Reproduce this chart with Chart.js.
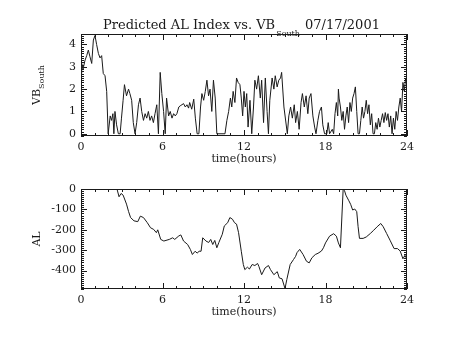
<!DOCTYPE html>
<html>
<head>
<meta charset="utf-8">
<script src="https://cdn.jsdelivr.net/npm/chart.js@4.4.0/dist/chart.umd.min.js"></script>
<style>
  html, body { margin: 0; padding: 0; background: #fff; }
  #wrap { position: relative; width: 454px; height: 341px; }
  #wrap canvas { position: absolute; left: 0; }
  #vbChart { top: 0; }
  #alChart { top: 170px; }
</style>
</head>
<body>
<div id="wrap">
  <canvas id="vbChart" width="454" height="170"></canvas>
  <canvas id="alChart" width="454" height="171"></canvas>
</div>
<script>
// VB south (top panel), hours vs value
const vbHours = [
  0.0, 0.05, 0.15, 0.3, 0.42, 0.54, 0.66, 0.79, 0.91, 1.03, 1.15, 1.28, 1.4, 1.52, 1.64, 1.77, 1.89, 2.0,
  2.15, 2.25, 2.35, 2.42, 2.5, 2.62, 2.75, 2.88, 2.98, 3.1, 3.2, 3.35, 3.5, 3.6, 3.73, 3.85, 3.98,
  4.1, 4.23, 4.35, 4.47, 4.6, 4.72, 4.84, 4.96, 5.08, 5.2, 5.33, 5.45, 5.58, 5.7, 5.83, 5.95, 6.08, 6.2,
  6.3, 6.45, 6.57, 6.7, 6.82, 6.94, 7.06, 7.2, 7.3, 7.55, 7.68, 7.8, 7.92, 8.0, 8.15, 8.3, 8.42, 8.55, 8.68,
  8.8, 8.9, 9.03, 9.15, 9.27, 9.39, 9.5, 9.63, 9.75, 9.88, 10.0, 10.6, 10.74, 10.87, 11.0, 11.1, 11.2,
  11.33, 11.45, 11.57, 11.7, 11.8, 11.9, 12.0, 12.1, 12.2, 12.3, 12.44, 12.57, 12.7, 12.8, 12.93, 13.06,
  13.2, 13.3, 13.44, 13.57, 13.7, 13.8, 13.9, 14.07, 14.2, 14.3, 14.44, 14.56, 14.69, 14.77, 14.94, 15.19,
  15.3, 15.43, 15.56, 15.7, 15.8, 15.93, 16.06, 16.2, 16.3, 16.44, 16.57, 16.7, 16.8, 16.93, 17.07, 17.2,
  17.3, 17.44, 17.56, 17.7, 17.8, 17.93, 18.1, 18.2, 18.3, 18.5, 18.6, 18.7, 18.8, 18.9, 18.95, 19.0, 19.1,
  19.2, 19.3, 19.4, 19.5, 19.6, 19.7, 19.8, 19.9, 20.0, 20.1, 20.2, 20.3, 20.4, 20.5, 20.6, 20.7, 20.8,
  20.9, 21.0, 21.1, 21.2, 21.3, 21.4, 21.5, 21.6, 21.7, 21.8, 21.9, 22.0, 22.1, 22.2, 22.3, 22.4, 22.5,
  22.6, 22.7, 22.8, 22.9, 23.0, 23.1, 23.2, 23.3, 23.4, 23.5, 23.6, 23.7, 23.8, 23.9, 24.0
];
const vbValues = [
  2.7, 3.15, 2.9, 3.3, 3.5, 3.75, 3.45, 3.15, 4.2, 4.4, 4.0, 3.6, 3.4, 3.5, 2.7, 2.6, 1.9, 0,
  0.8, 0.6, 0.9, 0, 1.0, 0.4, 0, 0, 0.7, 1.5, 2.2, 1.7, 2.0, 1.8, 1.5, 0.5, 0,
  0.5, 1.3, 1.6, 1.0, 0.6, 0.9, 0.7, 1.0, 0.6, 0.8, 0.5, 0.9, 1.3, 0, 2.75, 1.8, 1.0, 0,
  1.6, 0.8, 1.0, 0.7, 0.9, 0.8, 0.9, 1.2, 1.25, 1.35, 1.2, 1.3, 1.15, 1.4, 1.1, 1.55, 0.7, 0, 0,
  1.2, 1.8, 1.5, 1.9, 2.4, 1.7, 2.0, 1.0, 2.4, 1.6, 0, 0, 0.6, 1.0, 1.6, 1.2, 1.9,
  1.4, 2.5, 2.3, 2.2, 1.6, 0.8, 1.9, 1.2, 1.8, 0.3, 1.5, 0, 1.2, 2.4, 2.0, 2.6,
  1.6, 2.4, 0.5, 2.5, 1.0, 0, 1.5, 2.5, 2.0, 2.6, 2.1, 2.4, 2.5, 2.75, 1.2, 0,
  0.8, 1.2, 0.7, 1.3, 0.5, 1.0, 0.2, 1.4, 1.8, 1.2, 1.7, 0.9, 1.6, 1.8, 0.8, 0.3,
  0, 0.6, 1.0, 1.2, 0.4, 0, 0, 0.5, 0, 0.2, 0, 0.9, 1.4, 0.8, 2.0, 1.6, 1.2,
  0.6, 1.0, 0.2, 0.8, 1.2, 0.5, 1.4, 1.0, 1.6, 1.8, 2.1, 1.0, 0, 0, 0.6, 1.2, 0.7,
  1.0, 1.5, 0.9, 1.3, 0.4, 0.9, 0, 0, 0.5, 0.2, 0.7, 0.3, 0.6, 0.9, 0.5, 0.95, 0.6,
  0.9, 0.3, 0.8, 0, 0.7, 0.2, 1.0, 0.6, 1.2, 1.6, 1.0, 2.3, 1.9, 2.5, 2.2
];

// AL index (bottom panel)
const alHours = [
  0, 2.65, 2.8, 2.95, 3.1, 3.35, 3.5, 3.65, 3.9, 4.18, 4.37, 4.6, 4.88, 5.12, 5.35, 5.55, 5.65, 5.87, 6.1, 6.5,
  6.75, 6.9, 7.2, 7.35, 7.55, 7.85, 8.05, 8.2, 8.4, 8.55, 8.7, 8.84, 8.96, 9.2, 9.4, 9.55, 9.7, 9.85, 10.0, 10.15,
  10.4, 10.55, 10.8, 10.96, 11.15, 11.3, 11.45, 11.6, 11.8, 11.95, 12.06, 12.25, 12.4, 12.6, 12.8, 13.0, 13.1,
  13.3, 13.55, 13.8, 13.95, 14.2, 14.45, 14.6, 14.8, 15.02, 15.15, 15.4, 15.65, 15.8, 15.9, 16.1, 16.35, 16.6,
  16.8, 17.0, 17.25, 17.45, 17.7, 17.85, 18.0, 18.3, 18.6, 18.8, 18.95, 19.1, 19.3, 19.4, 19.5, 19.7, 19.85,
  20.0, 20.15, 20.3, 20.4, 20.5, 20.77, 21.0, 21.3, 21.55, 21.8, 22.07, 22.25, 22.5, 22.75, 23.05, 23.3, 23.5,
  23.7, 23.85, 24.0
];
const alValues = [
  0, 0, -38, -22, -30, -74, -110, -140, -156, -160, -133, -140, -165, -190, -198, -214, -200, -247, -255, -247,
  -239, -247, -230, -225, -255, -272, -296, -321, -305, -314, -305, -305, -239, -255, -262, -247, -272, -252, -288, -262,
  -222, -181, -165, -140, -148, -165, -172, -214, -305, -370, -395, -383, -392, -370, -375, -365, -380,
  -420, -387, -375, -395, -420, -405, -436, -440, -488, -444, -370, -345, -330, -312, -296, -321, -354,
  -362, -337, -321, -315, -304, -288, -264, -231, -219, -231, -264, -288, 0, -8, -30, -55, -75,
  -103, -98, -111, -185, -242, -242, -235, -218, -202, -185, -169, -185, -218, -251, -292, -292, -304,
  -342, -325, -345
];

// axis ticks
const hourTicks = [0, 6, 12, 18, 24];
const vbTicks = [0, 1, 2, 3, 4];
const alTicks = [0, -100, -200, -300, -400];

const FONT = '"DejaVu Serif", "Liberation Serif", serif';
const INK = '#1a1a1a';

// IDL style frame: box around the plot with inward major/minor ticks on all four sides
const idlFrame = {
  id: 'idlFrame',
  afterDatasetsDraw(chart, args, opts) {
    const { ctx, chartArea: a, scales: { x, y } } = chart;
    ctx.save();
    ctx.strokeStyle = INK;
    ctx.lineWidth = 1;
    ctx.strokeRect(a.left + 0.5, a.top + 0.5, a.right - a.left - 1, a.bottom - a.top - 1);

    ctx.beginPath();
    const xTicks = (v, len) => {
      const px = Math.round(x.getPixelForValue(v)) + 0.5;
      ctx.moveTo(px, a.bottom); ctx.lineTo(px, a.bottom - len);
      ctx.moveTo(px, a.top); ctx.lineTo(px, a.top + len);
    };
    const yTicks = (v, len) => {
      const py = Math.round(y.getPixelForValue(v)) + 0.5;
      ctx.moveTo(a.left, py); ctx.lineTo(a.left + len, py);
      ctx.moveTo(a.right, py); ctx.lineTo(a.right - len, py);
    };
    for (let v = x.min; v <= x.max + 1e-9; v += opts.xMinor) xTicks(v, 3);
    opts.xMajor.forEach(v => xTicks(v, 6));
    const start = Math.ceil(y.min / opts.yMinor) * opts.yMinor;
    for (let v = start; v <= y.max + 1e-9; v += opts.yMinor) yTicks(v, 3);
    opts.yMajor.forEach(v => yTicks(v, 6));
    ctx.stroke();

    // axis titles (with subscripts where needed)
    ctx.fillStyle = INK;
    ctx.textBaseline = 'alphabetic';
    ctx.font = '11px ' + FONT;
    ctx.textAlign = 'center';
    ctx.fillText('time(hours)', (a.left + a.right) / 2, a.bottom + 26);

    ctx.save();
    ctx.translate(opts.yTitleX, (a.top + a.bottom) / 2);
    ctx.rotate(-Math.PI / 2);
    ctx.textAlign = 'left';
    const main = opts.yTitle;
    const sub = opts.yTitleSub || '';
    ctx.font = '8px ' + FONT;
    const subW = ctx.measureText(sub).width;
    ctx.font = '11px ' + FONT;
    const mainW = ctx.measureText(main).width;
    const x0 = -(mainW + subW) / 2;
    ctx.fillText(main, x0, 0);
    if (sub) {
      ctx.font = '8px ' + FONT;
      ctx.fillText(sub, x0 + mainW, 4);
    }
    ctx.restore();

    if (opts.title) {
      ctx.textAlign = 'left';
      ctx.font = '13px ' + FONT;
      const t1 = 'Predicted AL Index vs. VB';
      ctx.fillText(t1, 103, 29);
      const w1 = ctx.measureText(t1).width;
      ctx.font = '8px ' + FONT;
      ctx.fillText('South', 103 + w1 + 1, 36);
      ctx.font = '13px ' + FONT;
      ctx.fillText('07/17/2001', 305, 29);
    }
    ctx.restore();
  }
};

function panel(canvasId, hours, values, yMin, yMax, yTickVals, pad, xHeight, frame) {
  const data = hours.map((h, i) => ({ x: h, y: values[i] }));
  return new Chart(document.getElementById(canvasId), {
    type: 'line',
    data: {
      datasets: [{
        data: data,
        borderColor: INK,
        borderWidth: 1,
        pointRadius: 0,
        tension: 0,
        fill: false
      }]
    },
    options: {
      responsive: false,
      animation: false,
      events: [],
      layout: { padding: pad },
      plugins: {
        legend: { display: false },
        tooltip: { enabled: false },
        idlFrame: frame
      },
      scales: {
        x: {
          type: 'linear',
          min: 0,
          max: 24,
          afterBuildTicks: s => { s.ticks = hourTicks.map(v => ({ value: v })); },
          afterFit: s => { s.height = xHeight; },
          grid: { display: false, drawTicks: false },
          border: { display: false },
          ticks: { color: INK, padding: 5, maxRotation: 0, font: { family: FONT, size: 11 } }
        },
        y: {
          type: 'linear',
          min: yMin,
          max: yMax,
          afterBuildTicks: s => { s.ticks = yTickVals.map(v => ({ value: v })); },
          afterFit: s => { s.width = 81 - pad.left; },
          grid: { display: false, drawTicks: false },
          border: { display: false },
          ticks: { color: INK, padding: 5, font: { family: FONT, size: 11 } }
        }
      }
    },
    plugins: [idlFrame]
  });
}

panel('vbChart', vbHours, vbValues, -0.1, 4.47, vbTicks,
  { left: 0, right: 47, top: 34, bottom: 0 }, 34,
  { xMinor: 1, xMajor: hourTicks, yMinor: 0.1, yMajor: vbTicks, yTitle: 'VB', yTitleSub: 'South', yTitleX: 40, title: true });

panel('alChart', alHours, alValues, -490, 0, alTicks,
  { left: 0, right: 47, top: 19, bottom: 0 }, 52,
  { xMinor: 1, xMajor: hourTicks, yMinor: 10, yMajor: alTicks, yTitle: 'AL', yTitleX: 40, title: false });
</script>
</body>
</html>
